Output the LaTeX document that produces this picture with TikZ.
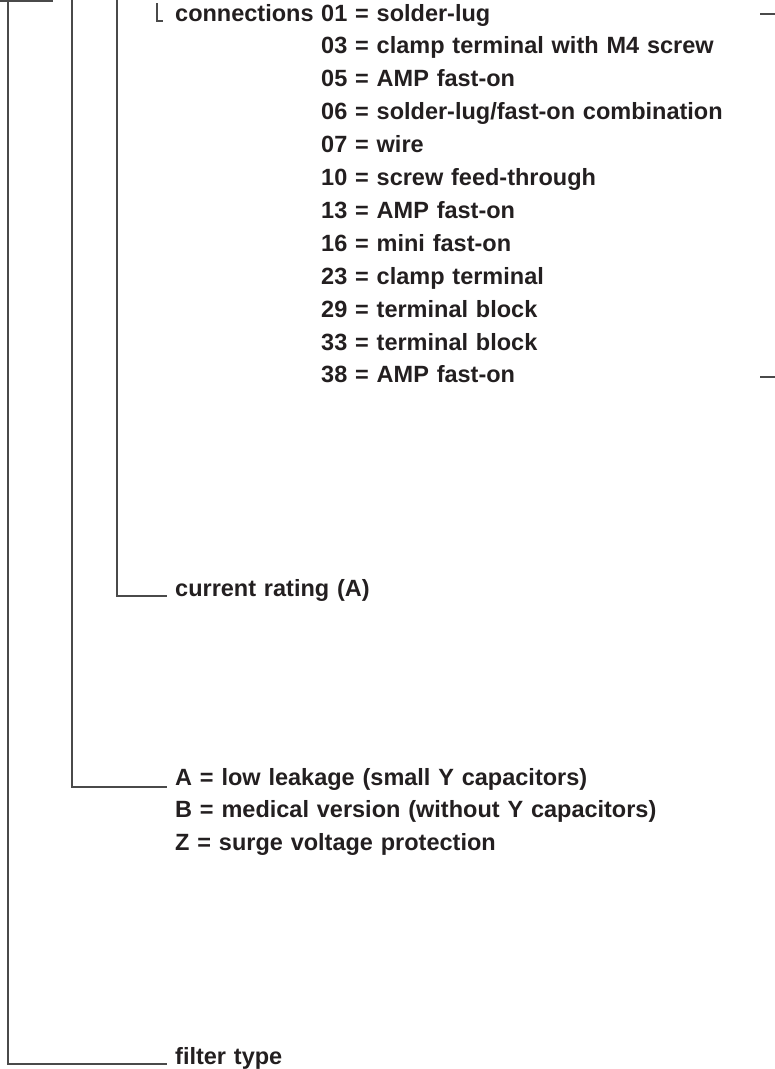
\documentclass[tikz,border=0pt]{standalone}
\usepackage{fontspec}
\setmainfont{Liberation Sans}
\usetikzlibrary{positioning}
\definecolor{keyInk}{HTML}{231F20}
\definecolor{keyLine}{HTML}{4A4A4A}

\begin{document}
\begin{tikzpicture}[
    x=1pt, y=-1pt,
    node distance=9.5pt,
    item/.style={font=\fontsize{23.5}{23.5}\selectfont\bfseries, text=keyInk,
                 anchor=base west, inner sep=0pt, text width=580pt, align=left,
                 text height=17pt, text depth=6pt},
    leader/.style={draw=keyLine, line width=1.1pt},
  ]
    \useasboundingbox (0,0) rectangle (775,1069);

    % code key texts
    \node[item] (conn) at (175,21) {connections};
    \node[item] (c01) at (321,21) {01 = solder-lug};
    \node[item, below=of c01] (c03) {03 = clamp terminal with M4 screw};
    \node[item, below=of c03] (c05) {05 = AMP fast-on};
    \node[item, below=of c05] (c06) {06 = solder-lug/fast-on combination};
    \node[item, below=of c06] (c07) {07 = wire};
    \node[item, below=of c07] (c10) {10 = screw feed-through};
    \node[item, below=of c10] (c13) {13 = AMP fast-on};
    \node[item, below=of c13] (c16) {16 = mini fast-on};
    \node[item, below=of c16] (c23) {23 = clamp terminal};
    \node[item, below=of c23] (c29) {29 = terminal block};
    \node[item, below=of c29] (c33) {33 = terminal block};
    \node[item, below=of c33] (c38) {38 = AMP fast-on};

    \node[item] (cur) at (175,596) {current rating (A)};

    \node[item] (optA) at (175,785) {A = low leakage (small Y capacitors)};
    \node[item, below=of optA] (optB) {B = medical version (without Y capacitors)};
    \node[item, below=of optB] (optZ) {Z = surge voltage protection};

    \node[item] (ftype) at (175,1064) {filter type};

    % leader lines
    \coordinate (ctop) at (157,3);
    \coordinate (rtop) at (117,0);
    \coordinate (otop) at (72,0);
    \coordinate (ftop) at (8,0);
    \draw[leader] (ctop) |- ([xshift=-12pt]conn.base west);
    \draw[leader] (rtop) |- ([xshift=-8pt]cur.base west);
    \draw[leader] (otop) |- ([xshift=-8pt,yshift=-2pt]optA.base west);
    \draw[leader] (ftop) |- ([xshift=-8pt]ftype.base west);

    % cut-off parts at the edges
    \draw[leader] (0,1) -- (53,1);
    \draw[leader] (760,14) -- (775,14);
    \draw[leader] (760,377) -- (775,377);
\end{tikzpicture}
\end{document}
